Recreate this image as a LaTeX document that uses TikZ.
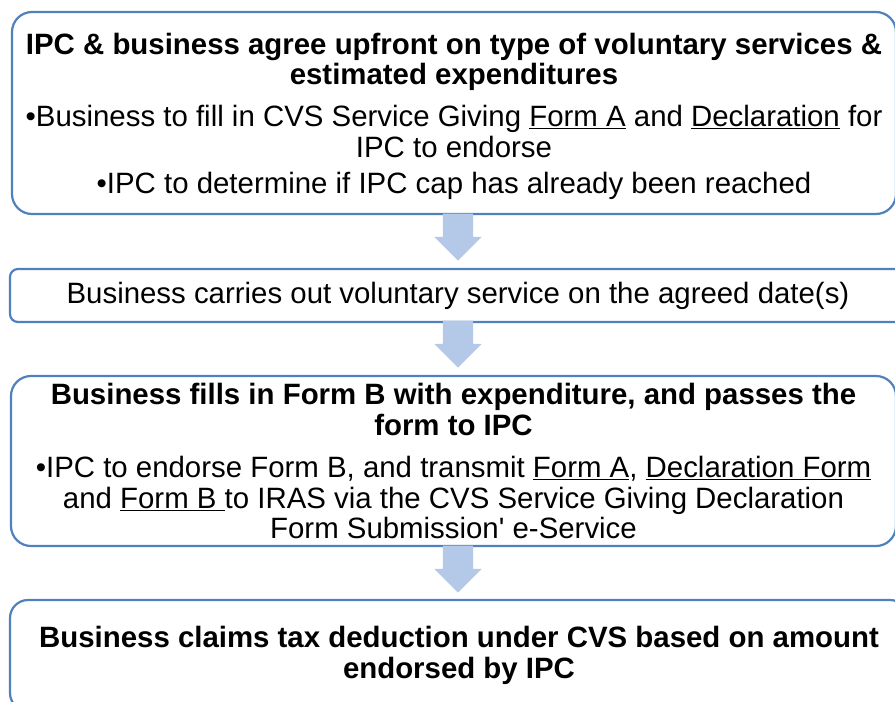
\documentclass[tikz,border=0pt]{standalone}
\usepackage{fontspec}
\setmainfont{Liberation Sans}
\usepackage{xcolor}
\usetikzlibrary{shapes.arrows, positioning, calc}
\definecolor{boxblue}{HTML}{4F81BD}
\definecolor{arrowblue}{HTML}{B4C9E7}
\tikzstyle{stepbox} = [rectangle, draw=boxblue, line width=2.2pt, fill=white, align=center, inner sep=0pt, font=\fontsize{29.4}{30.5}\selectfont]
\tikzstyle{downarrow} = [single arrow, rotate=-90, fill=arrowblue, draw=none, inner xsep=0pt, inner ysep=15pt, minimum width=42pt, minimum height=47pt, single arrow head extend=8.5pt, anchor=tip]

\begin{document}
\begin{tikzpicture}[x=1pt, y=-1pt]
    \useasboundingbox (0,0) rectangle (895,702);
    \clip (0,0) rectangle (895,702);

    % Steps
    \node[stepbox, minimum width=884pt, minimum height=202pt, rounded corners=20pt, text depth=-3pt] (agree) at (454,113) {%
        \textbf{IPC \& business agree upfront on type of voluntary services \&}\\
        \textbf{estimated expenditures}\\[11.5pt]
        •Business to fill in CVS Service Giving \underline{Form A} and \underline{Declaration} for\\
        IPC to endorse\\[5.5pt]
        •IPC to determine if IPC cap has already been reached};
    \node[stepbox, minimum width=896pt, minimum height=53pt, rounded corners=8pt] (carry) at (458,295.5) {Business carries out voluntary service on the agreed date(s)};
    \node[stepbox, minimum width=885pt, minimum height=170pt, rounded corners=20pt] (fills) at (453.5,461) {%
        \textbf{Business fills in Form B with expenditure, and passes the}\\
        \textbf{form to IPC}\\[12pt]
        •IPC to endorse Form B, and transmit \underline{Form A}, \underline{Declaration Form}\\
        and \underline{Form B\ }to IRAS via the CVS Service Giving Declaration\\
        Form Submission\textquotesingle{} e-Service};
    \node[stepbox, minimum width=898pt, minimum height=111pt, rounded corners=18pt] (claim) at (459,655.5) {%
        \textbf{Business claims tax deduction under CVS based on amount}\\
        \textbf{endorsed by IPC}};

    % Arrows
    \node[downarrow] (arr1) at ([yshift=7pt]carry.north) {};
    \node[downarrow] (arr2) at ([xshift=4.5pt, yshift=7pt]fills.north) {};
    \node[downarrow] (arr3) at ([xshift=-1pt, yshift=6pt]claim.north) {};
\end{tikzpicture}
\end{document}
